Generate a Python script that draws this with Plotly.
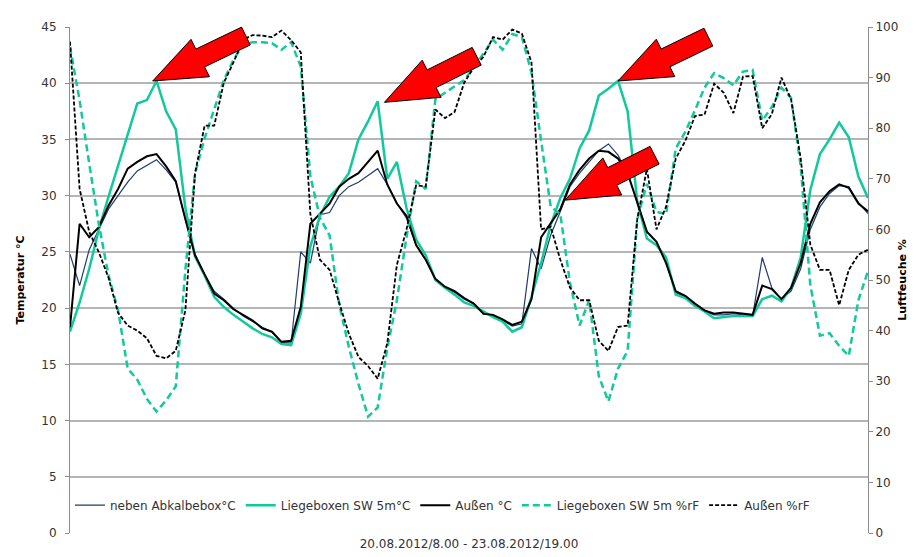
import plotly.graph_objects as go

# hours since 20.08.2012 8:00 (hourly readings up to 23.08.2012 19:00)
hours = list(range(84))

abkalbebox_temp = [
    24.8, 22.0, 25.2, 27.0, 28.8, 30.0, 31.2, 32.2, 32.7, 33.2, 32.3, 31.2, 27.9, 24.8, 23.0, 21.5, 20.8, 20.0, 19.3, 18.8, 18.3, 17.9,
    16.9, 16.9, 25.0, 24.0, 28.3, 28.5, 30.0, 30.8, 31.2, 31.8, 32.4, 31.0, 29.3, 28.0, 25.6, 24.3, 22.6, 21.8, 21.4, 20.8,
    20.4, 19.6, 19.3, 18.9, 18.4, 18.6, 25.3, 23.5, 26.5, 28.6, 30.8, 32.0, 33.0, 34.0, 34.6, 33.6, 32.0, 29.5, 26.8, 25.9, 24.0,
    21.4, 21.0, 20.3, 19.7, 19.4, 19.4, 19.5, 19.4, 19.3, 24.5, 21.8, 20.8, 21.5, 23.5, 27.0, 29.0, 30.2, 30.9, 30.8, 29.4, 28.4,
]
liegeboxen_temp = [
    17.9, 20.5, 23.5, 27.0, 29.9, 32.6, 35.5, 38.2, 38.5, 40.2, 37.5, 35.9, 28.9, 24.6, 22.9, 21.0, 20.1, 19.4, 18.8, 18.2, 17.7, 17.4,
    16.8, 16.7, 19.5, 25.5, 28.2, 29.9, 30.8, 32.0, 35.0, 36.6, 38.4, 31.5, 33.0, 28.9, 26.1, 24.7, 22.5, 21.8, 21.2, 20.5,
    20.2, 19.7, 19.2, 18.8, 17.9, 18.3, 21.0, 24.0, 27.4, 29.8, 31.5, 34.2, 35.8, 38.9, 39.5, 40.2, 37.5, 29.5, 26.2, 25.6, 24.5,
    21.2, 20.9, 20.2, 19.7, 19.1, 19.2, 19.3, 19.3, 19.3, 20.8, 21.1, 20.6, 21.8, 24.5, 30.5, 33.7, 35.0, 36.5, 35.2, 31.7, 29.8,
]
aussen_temp = [
    18.3, 27.5, 26.3, 27.2, 29.1, 30.6, 32.4, 33.0, 33.5, 33.7, 32.6, 31.3, 27.9, 24.7, 23.0, 21.3, 20.7, 19.9, 19.4, 18.9, 18.2, 17.9,
    17.0, 17.1, 20.1, 27.5, 28.4, 29.3, 30.8, 31.5, 32.0, 33.0, 34.0, 31.0, 29.3, 28.2, 25.6, 24.3, 22.6, 21.9, 21.5, 20.9,
    20.4, 19.5, 19.4, 19.0, 18.5, 18.8, 20.8, 26.3, 27.5, 28.8, 31.0, 32.3, 33.3, 34.0, 33.9, 33.3, 32.0, 29.5, 26.8, 25.9, 24.0,
    21.5, 21.1, 20.4, 19.8, 19.5, 19.6, 19.6, 19.5, 19.4, 22.0, 21.7, 20.8, 21.8, 24.0, 27.5, 29.4, 30.4, 31.0, 30.7, 29.3, 28.6,
]
liegeboxen_rf = [
    96.1, 85.5, 73.0, 61.0, 51.0, 44.0, 32.5, 30.3, 26.5, 24.0, 26.2, 29.0, 52.0, 71.0, 78.0, 83.7, 89.5, 93.5, 96.5, 97.0, 97.0, 96.8,
    95.5, 97.0, 92.2, 70.5, 62.3, 58.8, 45.2, 36.8, 29.5, 23.0, 24.8, 36.5, 46.0, 58.5, 69.5, 68.0, 85.7, 87.0, 88.3, 89.5,
    92.0, 94.8, 97.5, 95.5, 98.6, 98.0, 91.0, 77.5, 64.5, 63.0, 49.5, 41.0, 46.0, 31.0, 26.0, 32.5, 36.0, 62.0, 69.0, 63.5, 63.0,
    76.0, 79.3, 83.5, 88.0, 90.9, 89.9, 88.5, 91.2, 91.5, 81.5, 84.2, 88.0, 86.0, 72.5, 49.0, 39.0, 39.5, 37.0, 35.0, 46.0, 51.8,
]
aussen_rf = [
    97.1, 68.0, 59.5, 55.5, 50.5, 43.5, 41.0, 40.0, 38.5, 35.0, 34.5, 36.0, 44.0, 71.0, 80.5, 80.5, 89.0, 93.0, 97.5, 98.4, 98.3, 98.0,
    99.3, 97.4, 95.0, 63.0, 54.0, 52.0, 45.5, 39.4, 34.8, 33.0, 30.5, 37.5, 53.0, 60.0, 68.7, 68.5, 83.7, 82.0, 83.2, 89.0,
    92.0, 94.1, 98.0, 97.5, 99.5, 98.7, 93.0, 60.0, 60.5, 54.0, 48.5, 46.0, 46.0, 38.0, 36.0, 40.7, 41.0, 62.0, 72.0, 60.0, 64.5,
    74.0, 77.5, 82.4, 82.7, 88.8, 87.0, 83.0, 90.2, 90.3, 80.0, 82.8, 90.0, 85.7, 74.0, 57.0, 52.0, 52.0, 45.0, 52.0, 55.0, 56.0,
]

# red arrows: (tip hour, tip °C, tail hour, tail °C)
arrows = [
    (8.6, 40.2, 18.3, 44.2),
    (32.7, 38.3, 42.3, 42.4),
    (57.0, 40.2, 66.4, 44.1),
    (51.5, 29.6, 60.8, 33.6),
]

W, H = 919, 557
L, R, T, B = 60, 59, 14, 32
pw, ph = W - L - R, H - T - B
GREEN = "#12C99B"
NAVY = "#1F3A6E"

fig = go.Figure()
fig.add_trace(go.Scatter(x=hours, y=abkalbebox_temp, name="neben Abkalbebox°C", mode="lines",
                         line=dict(color=NAVY, width=1.2)))
fig.add_trace(go.Scatter(x=hours, y=liegeboxen_temp, name="Liegeboxen SW 5m°C", mode="lines",
                         line=dict(color=GREEN, width=2.5)))
fig.add_trace(go.Scatter(x=hours, y=aussen_temp, name="Außen °C", mode="lines",
                         line=dict(color="black", width=2)))
fig.add_trace(go.Scatter(x=hours, y=liegeboxen_rf, name="Liegeboxen SW 5m %rF", mode="lines", yaxis="y2",
                         line=dict(color=GREEN, width=2.5, dash="7px,4px")))
fig.add_trace(go.Scatter(x=hours, y=aussen_rf, name="Außen %rF", mode="lines", yaxis="y2",
                         line=dict(color="black", width=1.8, dash="4px,2px")))


def to_px(h, t):
    return L + h / 83 * pw, T + (1 - t / 45) * ph


for th, tt, eh, et in arrows:
    x0, y0 = to_px(th, tt)
    x1, y1 = to_px(eh, et)
    dx, dy = x1 - x0, y1 - y0
    ln = (dx * dx + dy * dy) ** 0.5
    ux, uy = dx / ln, dy / ln
    nx, ny = -uy, ux
    hx, hy = x0 + ux * 53, y0 + uy * 53
    pts = [(x0, y0),
           (hx + nx * 21, hy + ny * 21), (hx + nx * 10, hy + ny * 10),
           (x1 + nx * 10, y1 + ny * 10), (x1 - nx * 10, y1 - ny * 10),
           (hx - nx * 10, hy - ny * 10), (hx - nx * 21, hy - ny * 21)]
    path = "M " + " L ".join(f"{(px - L) / pw:.4f},{1 - (py - T) / ph:.4f}" for px, py in pts) + " Z"
    fig.add_shape(type="path", path=path, xref="paper", yref="paper",
                  fillcolor="#FF0000", line=dict(color="black", width=1))

font = dict(family="DejaVu Sans", size=11, color="#333333")
fig.update_layout(
    width=W, height=H,
    margin=dict(l=L, r=R, t=T, b=B),
    plot_bgcolor="white", paper_bgcolor="white",
    font=font,
    showlegend=True,
    legend=dict(orientation="h", x=0.0, xanchor="left", y=0.055, yanchor="middle",
                bgcolor="rgba(0,0,0,0)", font=dict(family="DejaVu Sans", size=12, color="#333333"),
                itemwidth=30, tracegroupgap=0),
    xaxis=dict(range=[0, 83], showticklabels=False, ticks="", showgrid=False, zeroline=False,
               showline=False,
               title=dict(text="20.08.2012/8.00 - 23.08.2012/19.00", standoff=6,
                          font=dict(family="DejaVu Sans", size=12, color="#333333"))),
    yaxis=dict(range=[0, 45], dtick=5, showgrid=True, gridcolor="#B5B5B5", gridwidth=1.5,
               zeroline=False, showline=True, linecolor="#8C8C8C", linewidth=1,
               ticks="outside", ticklen=4, tickcolor="#8C8C8C", ticklabelstandoff=6,
               tickfont=dict(family="DejaVu Sans", size=12, color="#333333"),
               title=dict(text="<b>Temperatur °C</b>", standoff=14,
                          font=dict(family="DejaVu Sans", size=11, color="black"))),
    yaxis2=dict(range=[0, 100], dtick=10, overlaying="y", side="right", showgrid=False,
                zeroline=False, showline=True, linecolor="#8C8C8C", linewidth=1,
                ticks="outside", ticklen=4, tickcolor="#8C8C8C",
                tickfont=dict(family="DejaVu Sans", size=12, color="#333333"),
                title=dict(text="<b>Luftfeuche %</b>", standoff=0,
                           font=dict(family="DejaVu Sans", size=11, color="black"))),
)

fig.write_html("out.html")
